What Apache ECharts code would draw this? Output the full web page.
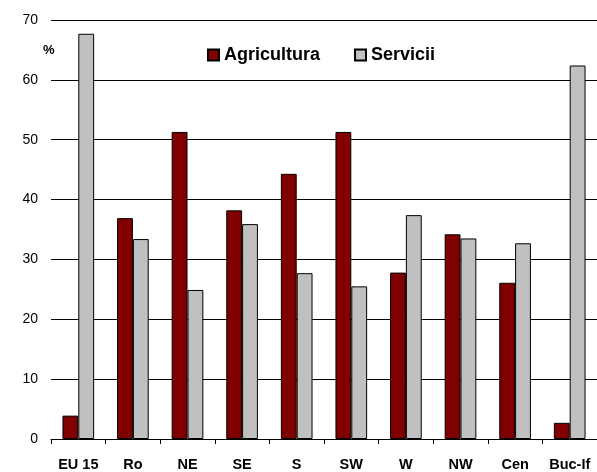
<!DOCTYPE html>
<html>
<head>
<meta charset="utf-8">
<script src="https://cdn.jsdelivr.net/npm/echarts@6/dist/echarts.min.js"></script>
<style>
  html, body { margin: 0; padding: 0; background: #fff; }
  #main { width: 597px; height: 472px; }
</style>
</head>
<body>
<div id="main"></div>
<script>
    var regions = ['EU 15', 'Ro', 'NE', 'SE', 'S', 'SW', 'W', 'NW', 'Cen', 'Buc-If'];
    var agricultura = [3.9, 36.9, 51.3, 38.2, 44.3, 51.3, 27.8, 34.2, 26.1, 2.7];
    var servicii = [67.7, 33.4, 24.9, 35.9, 27.7, 25.5, 37.4, 33.5, 32.7, 62.4];

    var chartDom = document.getElementById('main');
    var myChart = echarts.init(chartDom, null, { renderer: 'canvas' });
    var option;

    option = {
        animation: false,
        textStyle: { fontFamily: 'Liberation Sans, Arial, sans-serif' },
        title: {
            text: '%',
            left: 43,
            top: 44,
            padding: 0,
            textStyle: { fontSize: 13, fontWeight: 'bold', color: '#000' }
        },
        legend: {
            left: 207,
            top: 46,
            padding: 0,
            itemWidth: 11,
            itemHeight: 11,
            itemGap: 34,
            icon: 'rect',
            textStyle: { fontSize: 18, fontWeight: 'bold', color: '#000' },
            data: ['Agricultura', 'Servicii']
        },
        grid: {
            left: 51,
            top: 20,
            width: 553,
            height: 421,
            containLabel: false
        },
        xAxis: {
            type: 'category',
            data: regions,
            axisLine: { lineStyle: { color: '#000', width: 1 } },
            axisTick: { show: true, length: 5, lineStyle: { color: '#000' } },
            axisLabel: { fontSize: 14.5, fontWeight: 'bold', color: '#000', margin: 18, interval: 0 }
        },
        yAxis: {
            type: 'value',
            min: 0,
            max: 70,
            interval: 10,
            axisLine: { show: false },
            axisTick: { show: false },
            axisLabel: { fontSize: 14, color: '#000', margin: 13 },
            splitLine: { lineStyle: { color: '#000', width: 1 } }
        },
        series: [
            {
                name: 'Agricultura',
                type: 'bar',
                data: agricultura,
                barGap: '0%',
                barCategoryGap: '42%',
                itemStyle: { color: '#800000', borderColor: '#000', borderWidth: 1 }
            },
            {
                name: 'Servicii',
                type: 'bar',
                data: servicii,
                itemStyle: { color: '#c0c0c0', borderColor: '#000', borderWidth: 1 }
            }
        ]
    };

    option && myChart.setOption(option);
</script>
</body>
</html>
